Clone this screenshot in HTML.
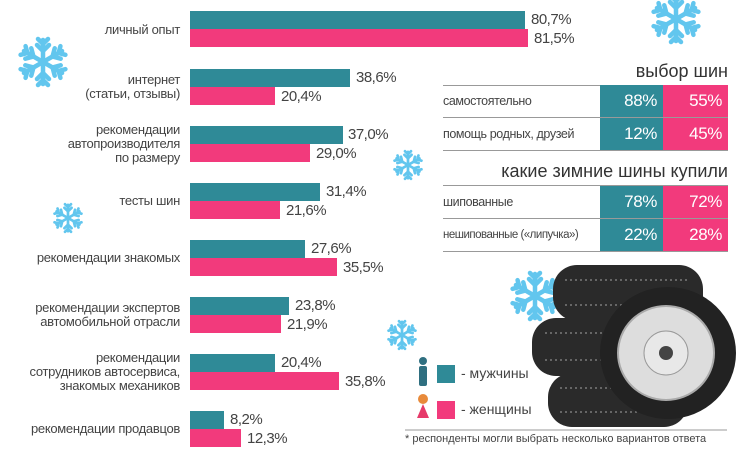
<!DOCTYPE html>
<html><head><meta charset="utf-8"><style>
body{margin:0;width:750px;height:456px;background:#fff;position:relative;overflow:hidden;font-family:"Liberation Sans",sans-serif;color:#333}
.a{position:absolute}
.lab{position:absolute;right:570px;text-align:right;font-size:13px;line-height:14px;color:#444;letter-spacing:-0.3px}
.bar{position:absolute;left:190px;height:18px}
.t{background:#2f8a97}.p{background:#f23a7c}
.v{position:absolute;font-size:15px;color:#444;line-height:18px;letter-spacing:-0.5px}
.tr{position:absolute;left:443px;width:285px;height:32px;border-bottom:1px solid #999;font-size:12.5px;color:#444;letter-spacing:-0.4px}
.tr span{position:absolute;line-height:32px}
.c1{position:absolute;left:157px;width:63px;height:100%;background:#2f8a97;color:#fff;text-align:right;font-size:17px;line-height:32px;box-sizing:border-box;padding-right:6px}
.c2{position:absolute;left:220px;width:65px;height:100%;background:#f23a7c;color:#fff;text-align:right;font-size:17px;line-height:32px;box-sizing:border-box;padding-right:6px}
.ttl{position:absolute;right:22px;font-size:18px;color:#333;border-bottom:1px solid #999;left:443px;text-align:right;height:24px}
</style></head><body>
<svg class="a" style="left:0;top:0" width="750" height="456">
<defs><g id="sf" stroke="#62c6ee" stroke-width="4.5" stroke-linecap="round" fill="none">
<g id="arm"><line x1="0" y1="0" x2="0" y2="-22"/><polyline points="-6,-17 0,-11 6,-17"/><polyline points="-5,-23 0,-18 5,-23"/></g>
<use href="#arm" transform="rotate(60)"/><use href="#arm" transform="rotate(120)"/><use href="#arm" transform="rotate(180)"/><use href="#arm" transform="rotate(240)"/><use href="#arm" transform="rotate(300)"/></g></defs>
<use href="#sf" transform="translate(43,62)"/>
<use href="#sf" transform="translate(676,19)"/>
<use href="#sf" transform="translate(408,165) scale(0.6)"/>
<use href="#sf" transform="translate(68,218) scale(0.6)"/>
<use href="#sf" transform="translate(535,296)"/>
<use href="#sf" transform="translate(402,335) scale(0.6)"/>
<g fill="#2a2a2a">
<rect x="553" y="265" width="150" height="56" rx="24"/>
<rect x="532" y="318" width="140" height="58" rx="24"/>
<rect x="548" y="373" width="140" height="54" rx="24"/>
</g>
<g stroke="#666" stroke-width="2">
<line x1="565" y1="280" x2="690" y2="280" stroke-dasharray="2 3"/>
<line x1="565" y1="305" x2="690" y2="305" stroke-dasharray="2 3"/>
<line x1="545" y1="333" x2="660" y2="333" stroke-dasharray="2 3"/>
<line x1="545" y1="360" x2="660" y2="360" stroke-dasharray="2 3"/>
<line x1="560" y1="388" x2="680" y2="388" stroke-dasharray="2 3"/>
<line x1="560" y1="412" x2="680" y2="412" stroke-dasharray="2 3"/>
</g>
<ellipse cx="668" cy="353" rx="68" ry="66" fill="#222"/>
<ellipse cx="666" cy="353" rx="48" ry="47" fill="#ddd" stroke="#aaa" stroke-width="2"/>
<circle cx="666" cy="353" r="22" fill="#e8e8e8" stroke="#999"/>
<circle cx="666" cy="353" r="7" fill="#444"/>
<line x1="405" y1="430" x2="727" y2="430" stroke="#999"/>
<g fill="#2f6f80"><circle cx="423" cy="361" r="4"/><rect x="419" y="366" width="8" height="20" rx="2"/></g>
<g fill="#e63a6a"><circle cx="423" cy="399" r="5" fill="#e88a3a"/><path d="M417 418 L423 404 L429 418 Z"/></g>
<rect x="437" y="365" width="18" height="18" fill="#2f8a97"/>
<rect x="437" y="401" width="18" height="18" fill="#f23a7c"/>
</svg>

<div class="lab" style="top:23px">личный опыт</div>
<div class="bar t" style="top:11px;width:335px"></div><div class="bar p" style="top:29px;width:338px"></div>
<div class="v" style="left:531px;top:11px">80,7%</div><div class="v" style="left:534px;top:30px">81,5%</div>

<div class="lab" style="top:73px">интернет<br>(статьи, отзывы)</div>
<div class="bar t" style="top:69px;width:160px"></div><div class="bar p" style="top:87px;width:85px"></div>
<div class="v" style="left:356px;top:69px">38,6%</div><div class="v" style="left:281px;top:88px">20,4%</div>

<div class="lab" style="top:123px">рекомендации<br>автопроизводителя<br>по размеру</div>
<div class="bar t" style="top:126px;width:153px"></div><div class="bar p" style="top:144px;width:120px"></div>
<div class="v" style="left:348px;top:126px">37,0%</div><div class="v" style="left:316px;top:145px">29,0%</div>

<div class="lab" style="top:194px">тесты шин</div>
<div class="bar t" style="top:183px;width:130px"></div><div class="bar p" style="top:201px;width:90px"></div>
<div class="v" style="left:326px;top:183px">31,4%</div><div class="v" style="left:286px;top:202px">21,6%</div>

<div class="lab" style="top:251px">рекомендации знакомых</div>
<div class="bar t" style="top:240px;width:115px"></div><div class="bar p" style="top:258px;width:147px"></div>
<div class="v" style="left:311px;top:240px">27,6%</div><div class="v" style="left:343px;top:259px">35,5%</div>

<div class="lab" style="top:301px">рекомендации экспертов<br>автомобильной отрасли</div>
<div class="bar t" style="top:297px;width:99px"></div><div class="bar p" style="top:315px;width:91px"></div>
<div class="v" style="left:295px;top:297px">23,8%</div><div class="v" style="left:287px;top:316px">21,9%</div>

<div class="lab" style="top:351px">рекомендации<br>сотрудников автосервиса,<br>знакомых механиков</div>
<div class="bar t" style="top:354px;width:85px"></div><div class="bar p" style="top:372px;width:149px"></div>
<div class="v" style="left:281px;top:354px">20,4%</div><div class="v" style="left:345px;top:373px">35,8%</div>

<div class="lab" style="top:422px">рекомендации продавцов</div>
<div class="bar t" style="top:411px;width:34px"></div><div class="bar p" style="top:429px;width:51px"></div>
<div class="v" style="left:230px;top:411px">8,2%</div><div class="v" style="left:247px;top:430px">12,3%</div>

<div class="ttl" style="top:61px">выбор шин</div>
<div class="tr" style="top:85px"><span>самостоятельно</span><div class="c1">88%</div><div class="c2">55%</div></div>
<div class="tr" style="top:118px"><span>помощь родных, друзей</span><div class="c1">12%</div><div class="c2">45%</div></div>
<div class="ttl" style="top:161px">какие зимние шины купили</div>
<div class="tr" style="top:186px"><span>шипованные</span><div class="c1">78%</div><div class="c2">72%</div></div>
<div class="tr" style="top:219px"><span style="font-size:11.5px;letter-spacing:-0.5px">нешипованные («липучка»)</span><div class="c1">22%</div><div class="c2">28%</div></div>

<div class="a" style="left:461px;top:365px;font-size:14px;color:#444">- мужчины</div>
<div class="a" style="left:461px;top:401px;font-size:14px;color:#444">- женщины</div>
<div class="a" style="left:405px;top:433px;font-size:11px;color:#444">* респонденты могли выбрать несколько вариантов ответа</div>
</body></html>
